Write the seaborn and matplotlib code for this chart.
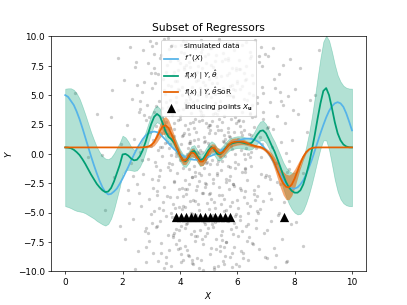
import numpy as np
import matplotlib
matplotlib.use("Agg")
import matplotlib.pyplot as plt
import seaborn as sns

# simulated data (approximate)
sim_x = [0.35, 0.8, 1.1, 1.28, 1.39, 1.6, 1.63, 1.85, 1.95, 1.9,
         2.05, 2.1, 2.15, 2.2, 2.25, 2.3, 2.32, 2.38, 2.4, 2.45,
         2.5, 2.52, 2.55, 2.6, 2.62, 2.65, 2.7, 2.72, 2.75, 2.78,
         2.8, 2.82, 2.85, 2.88, 2.9, 2.92, 2.94, 2.96, 2.98, 2.99,
         2.44, 2.57, 2.68, 2.83, 2.91,
         3.01, 3.03, 3.05, 3.06, 3.08, 3.1, 3.11, 3.13, 3.15, 3.17,
         3.18, 3.2, 3.22, 3.23, 3.25, 3.27, 3.28, 3.3, 3.32, 3.34,
         3.35, 3.37, 3.38, 3.4, 3.42, 3.43, 3.45, 3.47, 3.48, 3.5,
         3.52, 3.53, 3.55, 3.57, 3.58, 3.6, 3.62, 3.63, 3.65, 3.67,
         3.68, 3.7, 3.72, 3.73, 3.75, 3.77, 3.78, 3.8, 3.82, 3.83,
         3.85, 3.87, 3.88, 3.9, 3.92, 3.93, 3.95, 3.97, 3.98, 3.99,
         3.04, 3.14, 3.24, 3.36, 3.46, 3.56, 3.66, 3.76, 3.86, 3.96,
         3.09, 3.29, 3.49, 3.69, 3.89, 3.19, 3.39, 3.59, 3.79, 3.94,
         4.01, 4.02, 4.04, 4.05, 4.07, 4.08, 4.1, 4.11, 4.12, 4.14,
         4.15, 4.17, 4.18, 4.19, 4.21, 4.22, 4.24, 4.25, 4.26, 4.28,
         4.29, 4.31, 4.32, 4.33, 4.35, 4.36, 4.38, 4.39, 4.4, 4.42,
         4.43, 4.45, 4.46, 4.47, 4.49, 4.5, 4.52, 4.53, 4.54, 4.56,
         4.57, 4.59, 4.6, 4.61, 4.63, 4.64, 4.66, 4.67, 4.68, 4.7,
         4.71, 4.73, 4.74, 4.75, 4.77, 4.78, 4.8, 4.81, 4.82, 4.84,
         4.85, 4.87, 4.88, 4.89, 4.91, 4.92, 4.94, 4.95, 4.96, 4.98,
         4.99, 4.03, 4.09, 4.16, 4.23, 4.3, 4.37, 4.44, 4.51, 4.58,
         4.65, 4.72, 4.79, 4.86, 4.93, 4.97, 4.06, 4.13, 4.2, 4.27,
         4.34, 4.41, 4.48, 4.55, 4.62, 4.69, 4.76, 4.83, 4.9, 4.0,
         4.115, 4.245, 4.375, 4.505, 4.635, 4.765, 4.895, 4.185, 4.445, 4.705,
         5.01, 5.02, 5.04, 5.05, 5.07, 5.08, 5.1, 5.11, 5.12, 5.14,
         5.15, 5.17, 5.18, 5.19, 5.21, 5.22, 5.24, 5.25, 5.26, 5.28,
         5.29, 5.31, 5.32, 5.33, 5.35, 5.36, 5.38, 5.39, 5.4, 5.42,
         5.43, 5.45, 5.46, 5.47, 5.49, 5.5, 5.52, 5.53, 5.54, 5.56,
         5.57, 5.59, 5.6, 5.61, 5.63, 5.64, 5.66, 5.67, 5.68, 5.7,
         5.71, 5.73, 5.74, 5.75, 5.77, 5.78, 5.8, 5.81, 5.82, 5.84,
         5.85, 5.87, 5.88, 5.89, 5.91, 5.92, 5.94, 5.95, 5.96, 5.98,
         5.99, 5.03, 5.09, 5.16, 5.23, 5.3, 5.37, 5.44, 5.51, 5.58,
         5.65, 5.72, 5.79, 5.86, 5.93, 5.97, 5.06, 5.13, 5.2, 5.27,
         5.34, 5.41, 5.48, 5.55, 5.62, 5.69, 5.76, 5.83, 5.9, 5.0,
         6.01, 6.03, 6.04, 6.06, 6.08, 6.1, 6.11, 6.13, 6.15, 6.17,
         6.18, 6.2, 6.22, 6.24, 6.25, 6.27, 6.29, 6.31, 6.33, 6.35,
         6.37, 6.39, 6.41, 6.43, 6.45, 6.47, 6.49, 6.51, 6.53, 6.55,
         6.57, 6.6, 6.62, 6.64, 6.67, 6.69, 6.72, 6.74, 6.77, 6.8,
         6.82, 6.85, 6.88, 6.9, 6.93, 6.96, 6.99, 6.07, 6.19, 6.28,
         6.38, 6.48, 6.58, 6.7, 6.83, 6.95, 6.12, 6.34, 6.56, 6.78,
         6.05, 6.26, 6.46, 6.66, 6.87,
         7.02, 7.05, 7.08, 7.12, 7.15, 7.18, 7.22, 7.25, 7.28, 7.32,
         7.35, 7.38, 7.42, 7.45, 7.48, 7.52, 7.55, 7.6, 7.64, 7.68,
         7.72, 7.77, 7.82, 7.88, 7.93, 7.1, 7.3, 7.5, 7.7, 7.85,
         8.05, 8.12, 8.2, 8.3, 8.42, 8.54, 8.7, 8.85,
         3.51, 3.54, 3.58, 3.61, 3.64, 3.68, 3.71, 3.74, 3.78, 3.81,
         3.84, 3.88, 3.91, 3.94, 3.98, 4.01, 4.04, 4.08, 4.11, 4.14,
         4.18, 4.21, 4.24, 4.28, 4.31, 4.34, 4.38, 4.41, 4.44, 4.48,
         4.51, 4.54, 4.58, 4.61, 4.64, 4.68, 4.71, 4.74, 4.78, 4.81,
         4.84, 4.88, 4.91, 4.94, 4.98, 5.01, 5.04, 5.08, 5.11, 5.14,
         5.18, 5.21, 5.24, 5.28, 5.31, 5.34, 5.38, 5.41, 5.44, 5.48,
         5.51, 5.54, 5.58, 5.61, 5.64, 5.68, 5.71, 5.74, 5.78, 5.81,
         5.84, 5.88, 5.91, 5.94, 5.98, 6.01, 6.04, 6.08, 6.11, 6.14,
         6.18, 6.21, 6.24, 6.28, 6.31, 6.34, 6.38, 6.41, 6.44, 6.48,
         3.26, 3.44, 3.62, 3.8, 3.97, 4.15, 4.33, 4.5, 4.68, 4.86,
         5.03, 5.21, 5.39, 5.57, 5.75, 5.92, 6.1, 6.27, 6.45, 6.63,
         2.35, 2.62, 2.87, 3.12, 6.72, 6.91, 7.14, 7.36, 7.58, 7.8,
         2.22, 2.48, 2.66, 2.74, 2.93, 3.02, 3.07, 3.16, 3.21, 3.31,
         3.33, 3.41, 3.47, 3.53, 3.6, 3.64, 3.71, 3.75, 3.81, 3.87,
         3.91, 3.95, 4.03, 4.07, 4.12, 4.16, 4.22, 4.26, 4.32, 4.36,
         4.42, 4.46, 4.52, 4.56, 4.62, 4.66, 4.72, 4.76, 4.82, 4.86,
         4.92, 4.96, 5.02, 5.06, 5.12, 5.16, 5.22, 5.26, 5.32, 5.36,
         5.42, 5.46, 5.52, 5.56, 5.62, 5.66, 5.72, 5.76, 5.82, 5.86,
         5.92, 5.96, 6.02, 6.06, 6.12, 6.16, 6.22, 6.26, 6.32, 6.36,
         6.42, 6.46, 6.52, 6.56, 6.62, 6.68, 6.74, 6.81, 6.89, 6.97,
         7.06, 7.16, 7.27, 7.4, 7.54, 7.7, 7.9, 2.58, 2.8, 3.0,
         3.18, 3.35, 3.5, 3.66, 3.84, 4.0, 4.19, 4.35, 4.53, 4.7,
         4.88, 5.05, 5.19, 5.35, 5.53, 5.69, 5.85, 6.0, 6.15, 6.3,
         6.5, 6.68, 6.86, 7.04, 7.24, 7.46, 7.75, 8.02, 8.3, 1.7]
sim_y = [5.2, -0.3, 3.4, -0.1, -4.8, 3.1, 5.4, 8.2, 0.8, -6.1,
         6.3, -7.2, 2.5, -3.1, 9.1, -0.8, 4.7, -5.5, 1.3, 7.4,
         -2.6, 5.9, -8.3, 0.2, 3.8, -4.4, 8.8, -1.7, 6.1, -6.6,
         2.9, -9.2, 4.2, -0.4, 7.7, -3.8, 1.9, 9.6, -5.1, 0.7,
         -9.8, -3.3, 5.3, -7.9, 3.1,
         -2.1, 5.6, -8.4, 1.2, 7.3, -4.9, 3.6, -0.7, 9.4, -6.2,
         2.4, -3.5, 6.8, -9.1, 0.3, 4.5, -1.9, 8.2, -5.7, 1.8,
         -7.6, 3.9, -0.2, 6.4, -4.1, 9.8, -2.8, 0.9, 5.1, -8.8,
         2.7, -5.3, 7.6, -1.1, 4.0, -6.9, 0.5, 8.9, -3.7, 2.2,
         -9.5, 5.8, -0.9, 3.3, -7.1, 6.7, -2.4, 1.5, 9.2, -4.6,
         0.1, -6.4, 4.8, -1.6, 7.1, -8.1, 2.9, -3.0, 5.4, -0.5,
         -5.9, 6.0, -2.2, 3.1, -9.7, 1.0, 7.9, -4.3, 4.4, -7.3,
         8.5, -1.4, 2.0, -5.0, 6.2, -3.2, 0.6, 9.9, -6.7, 3.7,
         3.2, -6.1, 0.8, 8.7, -2.9, 5.0, -9.0, 1.6, -4.4, 7.2,
         -0.6, 4.3, -7.8, 2.5, 9.5, -3.4, 0.0, 6.5, -5.5, 2.1,
         -8.6, 4.9, -1.3, 7.8, -4.0, 1.1, -6.8, 3.5, 9.1, -2.0,
         5.7, -9.4, 0.4, -3.9, 6.9, -1.0, 3.0, -7.4, 8.0, -5.2,
         1.9, -2.7, 4.6, -8.9, 0.7, 7.5, -4.8, 2.8, -0.3, 5.3,
         -6.5, 9.7, -1.8, 3.6, -3.3, 0.2, 6.1, -9.9, 4.1, -5.8,
         1.4, -2.5, 8.3, -7.0, 2.6, -0.8, 5.5, -4.2, 3.9, -6.3,
         0.9, 9.3, -3.6, 6.6, -8.2, 1.7, -5.0, 4.4, -1.5, 7.0,
         -2.3, 3.3, -7.7, 5.9, -0.1, 2.3, -4.7, 8.6, -6.0, 0.5,
         4.7, -9.3, 1.2, -3.1, 6.3, -5.6, 2.9, -1.2, 7.7, -8.0,
         3.8, -0.4, 5.2, -6.6, 1.3, 8.9, -2.6, -4.5, 6.8, 0.3,
         -1.7, 6.4, -8.5, 2.0, 4.8, -3.8, 9.0, -0.5, -6.0, 3.4,
         7.4, -2.1, 0.6, -9.6, 5.1, -4.6, 1.8, 8.4, -7.2, 2.4,
         -0.9, 6.0, -5.4, 3.7, -2.8, 9.6, -8.3, 0.1, 4.5, -1.4,
         -6.9, 2.7, 7.9, -3.5, 5.6, -9.1, 1.0, -4.9, 3.2, 8.1,
         -0.2, -7.5, 4.2, -2.4, 6.7, 0.8, -5.7, 2.2, 9.4, -3.0,
         1.5, -8.8, 5.8, -1.1, 3.0, -6.4, 7.3, -4.1, 0.4, 4.9,
         -2.6, 8.8, -7.9, 1.9, -0.7, 5.4, -5.1, 2.6, -9.4, 6.2,
         -3.9, 0.7, 7.6, -6.2, 3.5, -1.6, 9.8, -4.3, 1.1, -8.7,
         5.0, -2.2, 4.0, -6.8, 0.0, 7.1, -3.3, 2.8, -9.8, 6.5,
         -0.6, 3.9, -7.3, 1.6, -4.8, 8.2, -1.9, 5.9, -5.9, 2.5,
         4.1, -7.0, 1.3, 8.0, -2.9, 5.5, -5.3, 0.3, 9.3, -1.5,
         3.6, -8.4, 6.9, -3.7, 2.0, -0.4, 7.5, -6.1, 4.6, -2.2,
         0.9, -9.0, 5.2, -4.4, 8.7, 1.6, -1.0, 3.1, -7.6, 6.0,
         -3.4, 2.3, 9.7, -5.6, 0.5, 4.3, -2.7, 7.8, -8.1, 1.4,
         -0.3, 5.7, -4.0, 3.0, -6.7, 8.5, -1.8, -9.5, 2.8, 6.3,
         -5.0, 0.2, -3.1, 4.8, 9.1, -2.0, 1.9, -7.4, 5.0, -4.7,
         7.2, -1.2, 3.4, -6.3, 0.8,
         2.2, -6.5, 8.3, -1.9, 4.4, -3.8, 0.6, 9.0, -8.0, 5.6,
         -0.8, 3.2, -5.2, 6.8, -2.6, 1.0, -7.2, 7.6, -4.1, 2.6,
         -9.1, 4.9, -1.3, -6.0, 3.7, -3.3, -9.6, 5.3, 0.1, 8.1,
         -5.8, 3.4, 7.3, -1.6, 1.9, 4.55, 5.0, 8.8,
         7.0, -3.6, 1.7, -8.2, 4.6, -0.1, 9.3, -5.4, 2.6, -2.3,
         6.2, -7.7, 0.4, 8.0, -4.5, 3.0, -9.2, 5.7, -1.2, 1.8,
         -6.3, 7.6, -3.0, 4.3, -8.7, 0.9, 6.6, -2.0, -5.1, 2.2,
         9.0, -4.0, 0.2, -7.0, 5.0, -1.6, 3.7, -9.0, 7.3, -3.3,
         1.0, -6.0, 4.9, -0.7, 8.5, -4.7, 2.5, -8.0, 6.0, -2.5,
         0.3, -5.8, 7.9, -1.8, 3.4, -9.5, 5.3, -0.3, 2.0, -6.6,
         8.6, -3.8, 1.3, -7.5, 4.0, -1.0, 6.9, -4.4, 0.7, -8.4,
         5.5, -2.7, 3.1, -6.2, 9.4, -0.9, 2.8, -5.6, 7.2, -3.1,
         1.6, -8.9, 4.7, -1.5, 6.4, -4.2, 0.0, -7.1, 3.5, 8.3,
         -4.6, 5.4, -0.8, 2.1, -6.5, 7.4, -2.6, 4.0, -9.7, 1.1,
         -3.4, 6.8, -7.8, 0.6, 5.0, -5.3, 2.4, -1.3, 8.2, -3.9,
         -1.9, 4.5, -6.7, 6.9, -5.0, 3.6, -2.1, -8.6, 4.2, -0.6,
         -4.2, 7.8, -0.5, 3.3, -7.4, 9.2, -2.9, 4.1, -6.1, 0.6,
         8.4, -4.8, 2.4, -9.3, 5.9, -1.4, 3.8, -6.9, 7.0, -0.2,
         -3.7, 5.5, -8.5, 1.5, 9.6, -2.2, 4.6, -5.9, 0.9, 7.4,
         -9.0, 2.7, -1.9, 6.2, -4.3, 0.1, 8.7, -7.2, 3.3, -2.8,
         5.1, -6.7, 1.8, -0.9, 9.1, -5.2, 4.3, -8.1, 2.0, -3.5,
         6.6, -0.6, -7.9, 3.9, -2.1, 8.0, -5.5, 1.4, -9.6, 4.8,
         -1.2, 7.3, -4.6, 2.9, -8.3, 5.8, 0.0, -3.2, 9.5, -6.0,
         1.7, -0.3, 6.7, -7.7, 3.2, -4.9, 8.3, -1.7, 5.2, -8.8,
         2.3, -5.7, 6.4, -2.4, 4.5, -9.2, 1.2, 3.6, -6.3, 6.9,
         -1.0, -8.4, 4.4, 0.8, -5.4, 7.7, -3.0, 2.6, -7.0, 5.6,
         -0.4, 9.0, -4.1, 3.0, -9.4, 1.9, -2.6, 6.0, -6.6, 0.5,
         4.2, -3.6, 7.5, -8.9, 2.1, -5.0, -1.5, 5.5, -7.8, -2.0]

# true function f*(X)
x_true = [0.0, 0.1, 0.2, 0.3, 0.4, 0.5, 0.6, 0.7, 0.8, 0.9,
          1.0, 1.1, 1.2, 1.3, 1.4, 1.5, 1.6, 1.7, 1.8, 1.9,
          2.0, 2.1, 2.2, 2.3, 2.4, 2.5, 2.6, 2.7, 2.8, 2.9,
          3.0, 3.1, 3.2, 3.3, 3.4, 3.5, 3.6, 3.7, 3.8, 3.9,
          4.0, 4.1, 4.2, 4.3, 4.4, 4.5, 4.6, 4.7, 4.8, 4.9,
          5.0, 5.1, 5.2, 5.3, 5.4, 5.5, 5.6, 5.7, 5.8, 5.9,
          6.0, 6.1, 6.2, 6.3, 6.4, 6.5, 6.6, 6.7, 6.8, 6.9,
          7.0, 7.1, 7.2, 7.3, 7.4, 7.5, 7.6, 7.7, 7.8, 7.9,
          8.0, 8.1, 8.2, 8.3, 8.4, 8.5, 8.6, 8.7, 8.8, 8.9,
          9.0, 9.1, 9.2, 9.3, 9.4, 9.5, 9.6, 9.7, 9.8, 9.9, 10.0]
y_true = [5.0, 4.85, 4.5, 4.15, 3.6, 2.95, 2.2, 1.4, 0.6, -0.2,
          -0.95, -1.65, -2.3, -2.85, -3.25, -3.45, -3.4, -3.2, -2.95, -2.55,
          -2.1, -1.6, -1.1, -0.55, -0.05, 0.45, 0.85, 1.25, 1.55, 1.75,
          1.85, 1.9, 1.85, 1.7, 1.45, 1.2, 0.9, 0.65, 0.4, 0.2,
          0.0, -0.15, -0.3, -0.4, -0.47, -0.5, -0.5, -0.48, -0.42, -0.35,
          -0.25, -0.15, -0.05, 0.1, 0.25, 0.4, 0.55, 0.72, 0.88, 1.02,
          1.12, 1.2, 1.26, 1.3, 1.3, 1.27, 1.2, 1.08, 0.9, 0.65,
          0.35, 0.0, -0.4, -0.85, -1.3, -1.75, -2.2, -2.55, -2.8, -2.95,
          -2.95, -2.85, -2.6, -2.25, -1.75, -1.15, -0.5, 0.25, 1.0, 1.75,
          2.45, 3.1, 3.65, 4.05, 4.3, 4.4, 4.3, 4.0, 3.45, 2.75, 2.0]

# full GP posterior mean and half-width of its band
x_full = x_true
y_full = [0.55, 0.53, 0.48, 0.35, 0.15, -0.1, -0.45, -0.85, -1.3, -1.75,
          -2.15, -2.55, -2.85, -3.1, -3.25, -3.2, -2.9, -2.35, -1.65, -0.95,
          -0.05, 0.0, -0.15, -0.4, -0.55, -0.5, -0.2, 0.3, 1.0, 1.8,
          2.55, 3.15, 3.4, 3.2, 2.6, 1.9, 1.45, 1.25, 0.95, 0.45,
          -0.1, -0.5, -0.62, -0.3, 0.15, 0.25, -0.15, -0.55, -0.45, -0.05,
          0.35, 0.58, 0.4, 0.0, -0.05, 0.2, 0.5, 0.75, 0.87, 0.95,
          1.0, 1.0, 0.95, 0.88, 0.85, 0.95, 1.25, 1.65, 1.95, 2.0,
          1.75, 1.25, 0.7, 0.2, -0.45, -1.1, -1.8, -2.4, -2.85, -3.15,
          -3.3, -3.3, -3.1, -2.6, -1.8, -0.85, 0.3, 1.6, 3.0, 4.3,
          5.35, 5.6, 5.0, 3.9, 2.7, 1.75, 1.15, 0.8, 0.63, 0.56, 0.55]
hw_full = [5.0, 5.05, 5.1, 5.1, 5.0, 4.8, 4.5, 4.2, 3.9, 3.6,
           3.35, 3.15, 3.0, 2.9, 2.85, 2.75, 2.6, 2.4, 2.15, 1.9,
           1.6, 1.4, 1.2, 1.0, 0.9, 0.9, 0.9, 0.88, 0.85, 0.8,
           0.75, 0.72, 0.7, 0.65, 0.6, 0.55, 0.5, 0.5, 0.5, 0.5,
           0.5, 0.5, 0.5, 0.5, 0.5, 0.5, 0.5, 0.5, 0.5, 0.5,
           0.5, 0.5, 0.5, 0.5, 0.5, 0.5, 0.5, 0.5, 0.5, 0.5,
           0.5, 0.5, 0.5, 0.5, 0.5, 0.55, 0.65, 0.75, 0.8, 0.82,
           0.8, 0.78, 0.8, 0.85, 0.92, 1.0, 1.1, 1.25, 1.4, 1.55,
           1.7, 1.85, 2.0, 2.2, 2.4, 2.6, 2.85, 3.15, 3.5, 3.85,
           4.2, 4.45, 4.65, 4.8, 4.9, 4.95, 5.0, 5.0, 5.0, 5.0, 5.0]

# subset of regressors mean and half-width
x_sor = [0.0, 2.6, 2.7, 2.8, 2.9, 3.0, 3.1, 3.2, 3.3, 3.4,
         3.5, 3.6, 3.7, 3.8, 3.9, 4.0, 4.1, 4.2, 4.3, 4.4,
         4.5, 4.6, 4.7, 4.8, 4.9, 5.0, 5.1, 5.2, 5.3, 5.4,
         5.5, 5.6, 5.7, 5.8, 5.9, 6.0, 6.1, 6.2, 6.3, 6.4,
         6.5, 6.6, 6.7, 6.8, 6.9, 7.0, 7.1, 7.2, 7.3, 7.4,
         7.5, 7.6, 7.7, 7.8, 7.9, 8.0, 8.1, 8.2, 8.3, 8.4,
         8.5, 8.6, 8.7, 8.8, 10.0]
y_sor = [0.55, 0.55, 0.56, 0.58, 0.63, 0.75, 1.0, 1.45, 1.95, 2.35,
         2.43, 2.2, 1.7, 1.1, 0.45, -0.1, -0.55, -0.55, -0.2, 0.12,
         0.05, -0.3, -0.65, -0.65, -0.3, 0.15, 0.5, 0.5, 0.2, 0.02,
         0.15, 0.45, 0.75, 0.95, 1.02, 1.05, 1.05, 1.02, 0.95, 0.85,
         0.75, 0.68, 0.62, 0.58, 0.48, 0.3, 0.05, -0.3, -0.8, -1.4,
         -2.0, -2.5, -2.8, -2.85, -2.6, -2.1, -1.45, -0.8, -0.25, 0.15,
         0.38, 0.5, 0.54, 0.55, 0.55]
hw_sor = [0.0, 0.0, 0.02, 0.05, 0.1, 0.18, 0.3, 0.45, 0.58, 0.7,
          0.75, 0.72, 0.62, 0.5, 0.42, 0.37, 0.35, 0.36, 0.35, 0.34,
          0.35, 0.36, 0.35, 0.34, 0.35, 0.36, 0.35, 0.34, 0.35, 0.35,
          0.35, 0.35, 0.35, 0.34, 0.33, 0.3, 0.27, 0.23, 0.2, 0.17,
          0.15, 0.13, 0.12, 0.12, 0.14, 0.18, 0.25, 0.35, 0.5, 0.68,
          0.85, 1.0, 1.08, 1.05, 0.95, 0.8, 0.6, 0.4, 0.24, 0.12,
          0.05, 0.02, 0.0, 0.0, 0.0]

# inducing points
x_ind = [3.85, 4.02, 4.2, 4.37, 4.54, 4.71, 4.89, 5.06, 5.23, 5.4, 5.58, 5.75, 7.63]
y_ind = [-5.4] * len(x_ind)

c_true = "#56B4E9"
c_full = "#009E73"
c_sor = "#E66100"

fig, ax = plt.subplots(figsize=(6.4, 4.8))

sns.scatterplot(x=sim_x, y=sim_y, s=14, color="k", alpha=0.2, linewidth=0,
                label="simulated data", ax=ax, zorder=1)
sns.lineplot(x=x_true, y=y_true, color=c_true, lw=2, label=r"$f^*(X)$", ax=ax, zorder=4)

ax.fill_between(x_full, np.array(y_full) - np.array(hw_full), np.array(y_full) + np.array(hw_full),
                color=c_full, alpha=0.3, lw=0.8, zorder=2)
sns.lineplot(x=x_full, y=y_full, color=c_full, lw=2,
             label=r"$f(x) \mid Y, \hat{\theta}$", ax=ax, zorder=5)

ax.fill_between(x_sor, np.array(y_sor) - np.array(hw_sor), np.array(y_sor) + np.array(hw_sor),
                color=c_sor, alpha=0.55, lw=0, zorder=3)
sns.lineplot(x=x_sor, y=y_sor, color=c_sor, lw=2,
             label=r"$f(x) \mid Y, \hat{\theta}$SoR", ax=ax, zorder=6)

sns.scatterplot(x=x_ind, y=y_ind, marker="^", s=110, color="k", linewidth=0,
                label=r"inducing points $X_\mathbf{u}$", ax=ax, zorder=7)

ax.set_ylim(-10, 10)
ax.set_xlabel("$X$")
ax.set_ylabel("$Y$")
ax.set_title("Subset of Regressors")
ax.legend(loc="upper center", fontsize="small")

fig.savefig("out.png", dpi=63.6)
